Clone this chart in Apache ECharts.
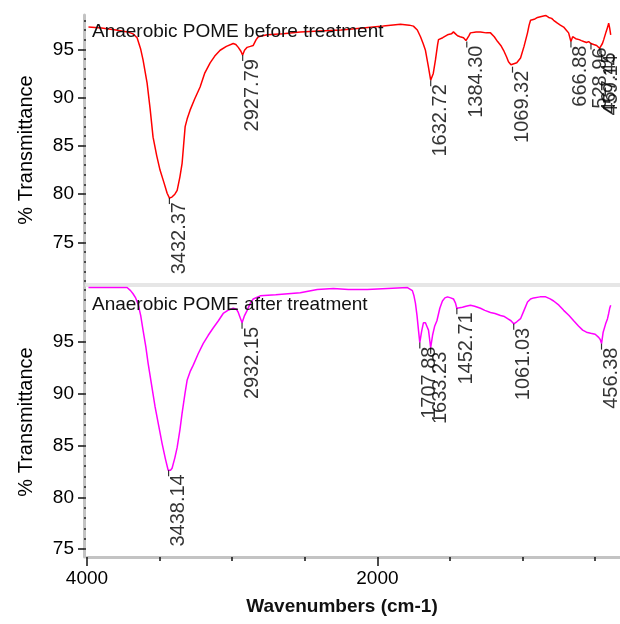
<!DOCTYPE html>
<html>
<head>
<meta charset="utf-8">
<script src="https://cdn.jsdelivr.net/npm/echarts@6/dist/echarts.min.js"></script>
<style>
  html, body { margin: 0; padding: 0; background: #fff; }
  #chart { width: 620px; height: 624px; }
</style>
</head>
<body>
<div id="chart"></div>
<script>
// ---- Data ----
const topTitle = 'Anaerobic POME before treatment';
const bottomTitle = 'Anaerobic POME after treatment';

const topW = [3990,3900,3800,3720,3683,3655,3630,3614,3586,3565,3545,3520,3497,3470,3448,3432,3415,3395,3379,3360,3345,3335,3324,3310,3290,3260,3221,3190,3152,3120,3083,3040,2993,2975,2958,2940,2928,2915,2897,2875,2855,2835,2820,2759,2650,2531,2400,2250,2100,1959,1841,1780,1752,1725,1703,1685,1669,1650,1633,1615,1600,1585,1579,1550,1517,1490,1476,1462,1448,1430,1407,1390,1384,1370,1359,1320,1290,1250,1221,1195,1172,1150,1131,1110,1097,1080,1069,1040,1014,990,966,955,945,920,897,870,841,820,800,786,760,740,717,700,683,667,655,634,610,595,579,560,545,529,510,490,470,462,450,441,425,414,407,400,393];
const topT = [97.3,97.2,97.0,96.8,96.6,96.2,95.0,93.9,91.5,88.8,85.9,84.0,82.5,81.2,80.1,79.6,79.7,80.0,80.4,81.8,83.2,85.0,87.0,87.8,88.7,89.8,91.1,92.5,93.6,94.3,94.9,95.3,95.6,95.5,95.2,94.8,94.4,94.9,95.2,95.3,95.4,96.0,96.3,96.5,96.6,96.8,96.9,97.0,97.2,97.4,97.6,97.5,97.4,97.0,96.3,95.6,94.9,93.3,91.8,92.5,93.9,95.5,96.0,96.2,96.5,96.6,96.8,96.6,96.4,96.3,96.2,95.9,95.8,96.4,96.7,96.8,96.8,96.7,96.7,96.3,95.8,95.4,94.9,94.2,93.7,93.4,93.2,93.6,94.1,95.3,96.7,97.5,98.0,98.1,98.3,98.4,98.5,98.3,98.2,98.0,97.7,97.5,97.3,97.0,96.7,95.8,96.3,96.1,96.0,95.9,95.8,95.7,95.8,95.6,95.5,95.4,95.1,94.9,95.6,96.0,96.8,97.3,97.7,97.2,96.5];

const bottomW = [3990,3800,3724,3700,3683,3665,3648,3630,3614,3595,3579,3555,3531,3505,3483,3460,3441,3425,3414,3395,3379,3360,3345,3325,3310,3290,3269,3235,3200,3165,3131,3095,3062,3030,2993,2970,2958,2945,2932,2915,2897,2875,2855,2807,2700,2531,2414,2303,2200,2069,1931,1793,1759,1748,1738,1727,1717,1708,1695,1683,1669,1660,1648,1633,1620,1605,1590,1570,1552,1535,1517,1495,1476,1462,1453,1440,1414,1390,1359,1330,1290,1260,1221,1190,1152,1125,1103,1080,1061,1040,1014,990,966,945,924,880,841,810,786,750,717,680,648,615,586,560,531,500,476,465,456,445,428,415,407,400,393];
const bottomT = [100.2,100.2,100.2,99.9,99.6,99.2,98.6,97.5,96.1,94.5,92.9,90.8,88.7,86.8,85.2,83.7,82.6,82.6,82.8,83.8,84.8,86.5,88.1,90.0,91.3,92.1,92.7,93.8,94.8,95.6,96.3,97.0,97.7,98.0,98.2,98.1,97.8,97.3,96.8,97.5,98.0,98.7,99.1,99.4,99.5,99.7,100.0,100.1,100.0,100.0,100.1,100.2,99.9,99.4,98.7,97.5,96.1,94.9,96.0,96.8,96.8,96.5,96.1,94.4,95.6,96.5,97.0,98.2,98.9,99.2,99.3,99.2,99.1,98.7,98.2,98.3,98.3,98.4,98.5,98.4,98.2,98.0,97.8,97.7,97.5,97.4,97.2,97.0,96.7,96.9,97.2,98.0,98.8,99.1,99.2,99.3,99.3,99.1,98.9,98.5,98.0,97.5,97.0,96.5,96.1,95.9,95.8,95.7,95.4,95.2,94.8,95.9,96.7,97.2,97.7,98.2,98.5];

const topPeakW = [3432.37, 2927.79, 1632.72, 1384.30, 1069.32, 666.88, 528.96, 467.45, 459.14];
const topPeakT = [79.6, 94.4, 91.8, 95.8, 93.2, 95.8, 95.6, 95.1, 94.9];
const topPeakLabels = ['3432.37', '2927.79', '1632.72', '1384.30', '1069.32', '666.88', '528.96', '467.45', '459.14'];

const bottomPeakW = [3438.14, 2932.15, 1707.88, 1633.23, 1452.71, 1061.03, 456.38];
const bottomPeakT = [82.6, 96.8, 94.9, 94.4, 98.2, 96.7, 94.8];
const bottomPeakLabels = ['3438.14', '2932.15', '1707.88', '1633.23', '1452.71', '1061.03', '456.38'];

const xLabelTicks = [4000, 2000];
const xMinorTicks = [4000, 3500, 3000, 2500, 2000, 1500, 1000, 500];
const yLabelTicksTop = [75, 80, 85, 90, 95];
const yLabelTicksBottom = [75, 80, 85, 90, 95];
const yMinorTop = [71,72,73,74,75,76,77,78,79,80,81,82,83,84,85,86,87,88,89,90,91,92,93,94,95,96,97,98];
const yMinorBottom = [75,76,77,78,79,80,81,82,83,84,85,86,87,88,89,90,91,92,93,94,95,96,97,98,99,100];

// ---- Chart ----
const FONT = '"Liberation Sans", Arial, sans-serif';
const X_MIN = 329, X_MAX = 4000;
const Y_OFF = 3;

const zip = (a, b) => a.map((v, i) => [v, b[i]]);
const zip3 = (a, b, c) => a.map((v, i) => [v, b[i], c[i]]);

function xAxisBase(gridIndex) {
  return { type: 'value', gridIndex, position: 'bottom', min: X_MIN, max: X_MAX, inverse: true, splitLine: { show: false } };
}

const peakLabel = {
  show: true,
  formatter: p => p.data[2],
  rotate: 90,
  position: 'bottom',
  distance: 3,
  align: 'right',
  verticalAlign: 'top',
  offset: [5, 0],
  fontSize: 20,
  fontFamily: FONT,
  color: '#000'
};

const chart = echarts.init(document.getElementById('chart'), null, { renderer: 'canvas' });
chart.setOption({
  animation: false,
  backgroundColor: '#fff',
  textStyle: { fontFamily: FONT },
  title: [
    { text: topTitle, left: 92, top: 22, textStyle: { fontSize: 19, fontWeight: 'normal', color: '#111', fontFamily: FONT }, padding: 0 },
    { text: bottomTitle, left: 92, top: 295, textStyle: { fontSize: 19, fontWeight: 'normal', color: '#111', fontFamily: FONT }, padding: 0 }
  ],
  grid: [
    { left: 87, right: 0, top: 15, height: 270 },
    { left: 87, right: 0, top: 287, height: 270 }
  ],
  xAxis: [
    Object.assign(xAxisBase(0), {
      axisLine: { show: true, lineStyle: { color: '#e6e6e6', width: 4 } },
      axisTick: { show: false }, axisLabel: { show: false }
    }),
    Object.assign(xAxisBase(1), {
      axisLine: { show: true, lineStyle: { color: '#c3c3c3', width: 3 } },
      axisTick: { show: true, customValues: xMinorTicks, length: 4, lineStyle: { color: '#111', width: 1.5 } },
      axisLabel: { show: false }
    }),
    Object.assign(xAxisBase(1), {
      axisLine: { show: false },
      axisTick: { show: true, customValues: xLabelTicks, length: 9, lineStyle: { color: '#111', width: 1.5 } },
      axisLabel: { show: true, customValues: xLabelTicks, formatter: v => String(v), margin: 12, fontSize: 19, color: '#000', fontFamily: FONT }
    })
  ],
  yAxis: [
    {
      type: 'value', gridIndex: 0, position: 'left', offset: Y_OFF, min: 70.6, max: 98.55,
      name: '% Transmittance', nameLocation: 'middle', nameGap: 48,
      nameTextStyle: { fontSize: 20, color: '#000', fontFamily: FONT },
      splitLine: { show: false },
      axisLine: { show: true, lineStyle: { color: '#c3c3c3', width: 3 } },
      axisTick: { show: true, customValues: yLabelTicksTop, length: 6, lineStyle: { color: '#111', width: 1.5 } },
      axisLabel: { show: true, customValues: yLabelTicksTop, margin: 10, fontSize: 19, color: '#000', fontFamily: FONT }
    },
    {
      type: 'value', gridIndex: 0, position: 'left', offset: Y_OFF, min: 70.6, max: 98.55,
      splitLine: { show: false }, axisLine: { show: false }, axisLabel: { show: false },
      axisTick: { show: true, customValues: yMinorTop, inside: true, length: 2, lineStyle: { color: '#222', width: 1.5 } }
    },
    {
      type: 'value', gridIndex: 1, position: 'left', offset: Y_OFF, min: 74.25, max: 100.25,
      name: '% Transmittance', nameLocation: 'middle', nameGap: 48,
      nameTextStyle: { fontSize: 20, color: '#000', fontFamily: FONT },
      splitLine: { show: false },
      axisLine: { show: true, lineStyle: { color: '#c3c3c3', width: 3 } },
      axisTick: { show: true, customValues: yLabelTicksBottom, length: 6, lineStyle: { color: '#111', width: 1.5 } },
      axisLabel: { show: true, customValues: yLabelTicksBottom, margin: 10, fontSize: 19, color: '#000', fontFamily: FONT }
    },
    {
      type: 'value', gridIndex: 1, position: 'left', offset: Y_OFF, min: 74.25, max: 100.25,
      splitLine: { show: false }, axisLine: { show: false }, axisLabel: { show: false },
      axisTick: { show: true, customValues: yMinorBottom, inside: true, length: 2, lineStyle: { color: '#222', width: 1.5 } }
    }
  ],
  graphic: [
    { type: 'text', x: 342, y: 607, style: { text: 'Wavenumbers (cm-1)', fontSize: 19, fontWeight: 'bold', fontFamily: FONT, fill: '#111', align: 'center', verticalAlign: 'middle' } }
  ],
  series: [
    {
      type: 'line', xAxisIndex: 0, yAxisIndex: 0, data: zip(topW, topT),
      showSymbol: false, symbol: 'none', lineStyle: { color: '#ff0000', width: 1.5 }, silent: true
    },
    {
      type: 'line', xAxisIndex: 1, yAxisIndex: 2, data: zip(bottomW, bottomT),
      showSymbol: false, symbol: 'none', lineStyle: { color: '#ff00ff', width: 1.5 }, silent: true
    },
    {
      type: 'scatter', xAxisIndex: 0, yAxisIndex: 0, data: zip3(topPeakW, topPeakT, topPeakLabels),
      symbol: 'rect', symbolSize: [1.2, 6], symbolOffset: [0, 3], itemStyle: { color: '#000' },
      label: peakLabel, silent: true, z: 5
    },
    {
      type: 'scatter', xAxisIndex: 1, yAxisIndex: 2, data: zip3(bottomPeakW, bottomPeakT, bottomPeakLabels),
      symbol: 'rect', symbolSize: [1.2, 6], symbolOffset: [0, 3], itemStyle: { color: '#000' },
      label: peakLabel, silent: true, z: 5
    }
  ]
});
</script>
</body>
</html>
